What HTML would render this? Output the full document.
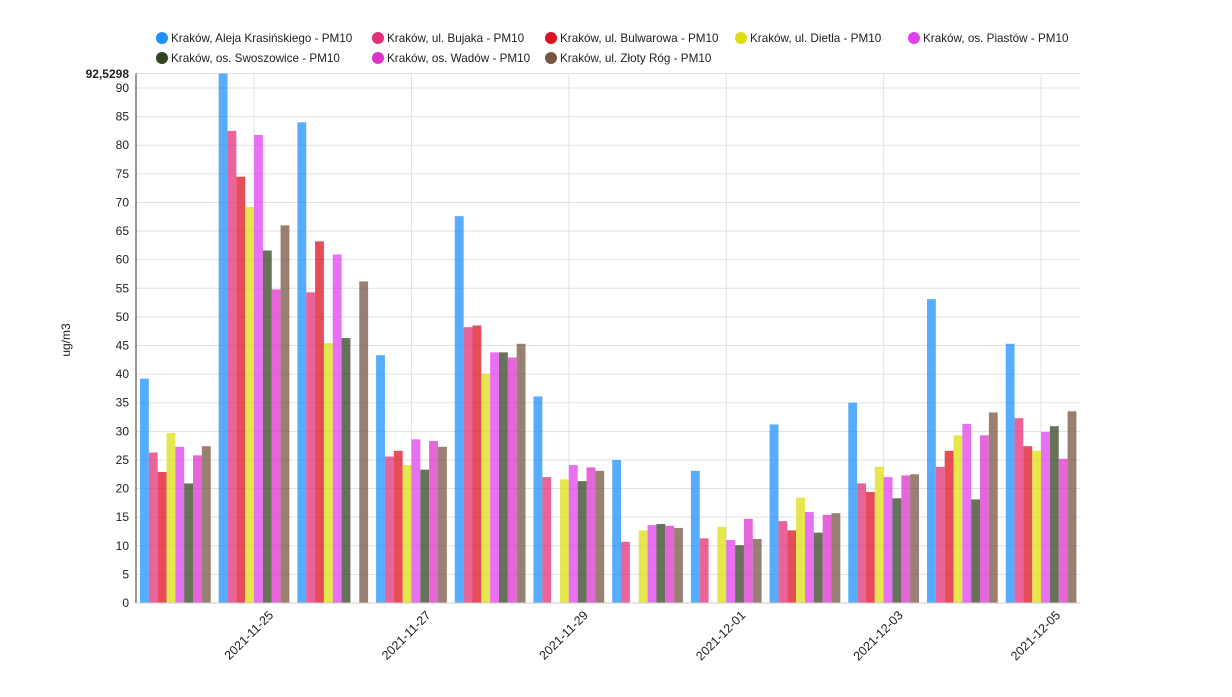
<!DOCTYPE html>
<html><head><meta charset="utf-8"><style>body{margin:0;background:#fff}svg{display:block;font-family:"Liberation Sans",Arial,sans-serif}</style></head>
<body>
<svg width="1232" height="697" xmlns="http://www.w3.org/2000/svg" id="s">
<g font-size="11.7" fill="#222">
<circle cx="162" cy="38" r="6" fill="#1e90ff"/><text x="171" y="42">Kraków, Aleja Krasińskiego - PM10</text>
<circle cx="378" cy="38" r="6" fill="#e0307a"/><text x="387" y="42">Kraków, ul. Bujaka - PM10</text>
<circle cx="551" cy="38" r="6" fill="#dd1122"/><text x="560" y="42">Kraków, ul. Bulwarowa - PM10</text>
<circle cx="741" cy="38" r="6" fill="#dddd11"/><text x="750" y="42">Kraków, ul. Dietla - PM10</text>
<circle cx="914" cy="38" r="6" fill="#e040ee"/><text x="923" y="42">Kraków, os. Piastów - PM10</text>
<circle cx="162" cy="58" r="6" fill="#334422"/><text x="171" y="62">Kraków, os. Swoszowice - PM10</text>
<circle cx="378" cy="58" r="6" fill="#dd33cc"/><text x="387" y="62">Kraków, os. Wadów - PM10</text>
<circle cx="551" cy="58" r="6" fill="#775544"/><text x="560" y="62">Kraków, ul. Złoty Róg - PM10</text>
</g>
<text x="0" y="0" font-size="12" fill="#222" transform="translate(70,340) rotate(-90)" text-anchor="middle">ug/m3</text>
<g id="g"></g>
</svg>
<script>
var g=document.getElementById('g'),h='';
var y0=603,k=5.7222,L=136,R=1080,gw=78.7;
for(var v=0;v<=90;v+=5){var y=y0-v*k;h+='<line x1="'+L+'" x2="'+R+'" y1="'+y+'" y2="'+y+'" stroke="#e2e2e2"/>';h+='<text x="129" y="'+(y+4)+'" font-size="12" text-anchor="end" fill="#222">'+v+'</text>';}
h+='<line x1="'+L+'" x2="'+R+'" y1="73.5" y2="73.5" stroke="#e2e2e2"/><text x="129" y="78" font-size="12" font-weight="bold" text-anchor="end" fill="#222">92,5298</text>';
var labels=['2021-11-25','2021-11-27','2021-11-29','2021-12-01','2021-12-03','2021-12-05'];
for(var i=0;i<6;i++){var cx=L+gw*(2*i+1)+gw/2;h+='<line x1="'+cx+'" x2="'+cx+'" y1="73.5" y2="'+y0+'" stroke="#e2e2e2"/>';
h+='<text transform="translate('+(cx+20)+',616) rotate(-45)" text-anchor="end" font-size="12.5" fill="#222">'+labels[i]+'</text>';}
var c=['#1e90ff','#e0307a','#dd1122','#dddd11','#e040ee','#334422','#dd33cc','#775544'];
var d=[[39.2,26.3,22.9,29.7,27.3,20.9,25.8,27.4],[92.53,82.5,74.5,69.2,81.8,61.6,54.8,66.0],[84.0,54.3,63.2,45.4,60.9,46.3,0,56.2],[43.3,25.6,26.6,24.1,28.6,23.3,28.3,27.3],[67.6,48.2,48.5,40.1,43.8,43.8,42.9,45.3],[36.1,22.0,0,21.6,24.1,21.3,23.7,23.1],[25.0,10.7,0,12.7,13.6,13.8,13.5,13.1],[23.1,11.3,0,13.3,11.0,10.1,14.7,11.2],[31.2,14.3,12.7,18.4,15.9,12.3,15.4,15.7],[35.0,20.9,19.4,23.8,22.0,18.3,22.3,22.5],[53.1,23.8,26.6,29.3,31.3,18.1,29.3,33.3],[45.3,32.3,27.4,26.6,29.9,30.9,25.2,33.5]];
for(var gi=0;gi<12;gi++){var x0=L+gi*gw+4;for(var s=0;s<8;s++){var v=d[gi][s];if(!v)continue;var hh=v*k;h+='<rect x="'+(x0+s*8.84)+'" y="'+(y0-hh)+'" width="8.84" height="'+hh+'" fill="'+c[s]+'" fill-opacity="0.75"/>';}}
h+='<line x1="'+L+'" x2="'+L+'" y1="73.5" y2="'+y0+'" stroke="#333"/><line x1="'+L+'" x2="'+R+'" y1="'+y0+'" y2="'+y0+'" stroke="#ccc"/>';
g.innerHTML=h;
</script>
</body></html>
